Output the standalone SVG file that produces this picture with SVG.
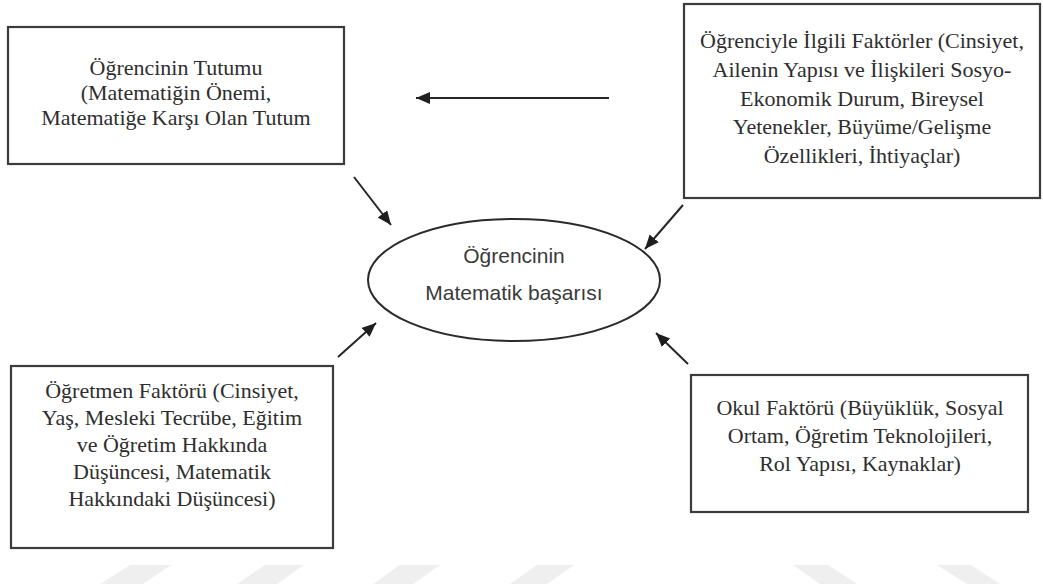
<svg xmlns="http://www.w3.org/2000/svg" width="1043" height="584" viewBox="0 0 1043 584">
<style>
.box{fill:#ffffff;stroke:#3c3c3c;stroke-width:2.2}
.t{font-family:"Liberation Serif","Times New Roman",serif;font-size:22px;fill:#2e2e2e;text-anchor:middle}
.s{font-family:"Liberation Sans",Arial,sans-serif;font-size:21px;fill:#3a3a3a;text-anchor:middle}
.c{stroke:#262626;stroke-width:2;fill:none;marker-end:url(#ah)}
.wm{fill:#efefef}
</style>
<defs>
<marker id="ah" markerUnits="userSpaceOnUse" markerWidth="16" markerHeight="13" refX="14" refY="6" orient="auto">
<path d="M0,0 L14,6 L0,12 z" fill="#1e1e1e"/>
</marker>
</defs>
<rect width="1043" height="584" fill="#ffffff"/>
<g id="watermark">
<polygon class="wm" points="130,565 171,565 143,584 100,584"/>
<polygon class="wm" points="265,565 304,565 277,584 237,584"/>
<polygon class="wm" points="400,565 440,565 413,584 373,584"/>
<polygon class="wm" points="537,565 574,565 547,584 510,584"/>
<polygon class="wm" points="793,565 828,565 857,584 820,584"/>
<polygon class="wm" points="937,565 971,565 1000,584 967,584"/>
</g>
<g id="connectors">
<line class="c" x1="609" y1="98" x2="416" y2="98"/>
<line class="c" x1="354" y1="177" x2="391" y2="225"/>
<line class="c" x1="683" y1="205" x2="645" y2="249"/>
<line class="c" x1="338" y1="357" x2="376" y2="323"/>
<line class="c" x1="688" y1="364" x2="656" y2="333"/>
</g>
<g id="node-tutum">
<rect class="box" x="8" y="27" width="336" height="137"/>
<text class="t" x="176" y="75">Öğrencinin Tutumu</text>
<text class="t" x="176" y="100">(Matematiğin Önemi,</text>
<text class="t" x="176" y="125">Matematiğe Karşı Olan Tutum</text>
</g>
<g id="node-ogrenci">
<rect class="box" x="684" y="4" width="356" height="194"/>
<text class="t" x="862" y="48">Öğrenciyle İlgili Faktörler (Cinsiyet,</text>
<text class="t" x="862" y="77">Ailenin Yapısı ve İlişkileri Sosyo-</text>
<text class="t" x="862" y="106">Ekonomik Durum, Bireysel</text>
<text class="t" x="862" y="134">Yetenekler, Büyüme/Gelişme</text>
<text class="t" x="862" y="163">Özellikleri, İhtiyaçlar)</text>
</g>
<g id="node-basari">
<ellipse cx="514" cy="280" rx="146" ry="61" fill="#ffffff" stroke="#2a2a2a" stroke-width="2"/>
<text class="s" x="514" y="263">Öğrencinin</text>
<text class="s" x="514" y="300">Matematik başarısı</text>
</g>
<g id="node-ogretmen">
<rect class="box" x="11" y="366" width="322" height="182"/>
<text class="t" x="172" y="398">Öğretmen Faktörü (Cinsiyet,</text>
<text class="t" x="172" y="425">Yaş, Mesleki Tecrübe, Eğitim</text>
<text class="t" x="172" y="452">ve Öğretim Hakkında</text>
<text class="t" x="172" y="479">Düşüncesi, Matematik</text>
<text class="t" x="172" y="506">Hakkındaki Düşüncesi)</text>
</g>
<g id="node-okul">
<rect class="box" x="691" y="375" width="337" height="137"/>
<text class="t" x="860" y="415">Okul Faktörü (Büyüklük, Sosyal</text>
<text class="t" x="860" y="443">Ortam, Öğretim Teknolojileri,</text>
<text class="t" x="860" y="471">Rol Yapısı, Kaynaklar)</text>
</g>
</svg>
